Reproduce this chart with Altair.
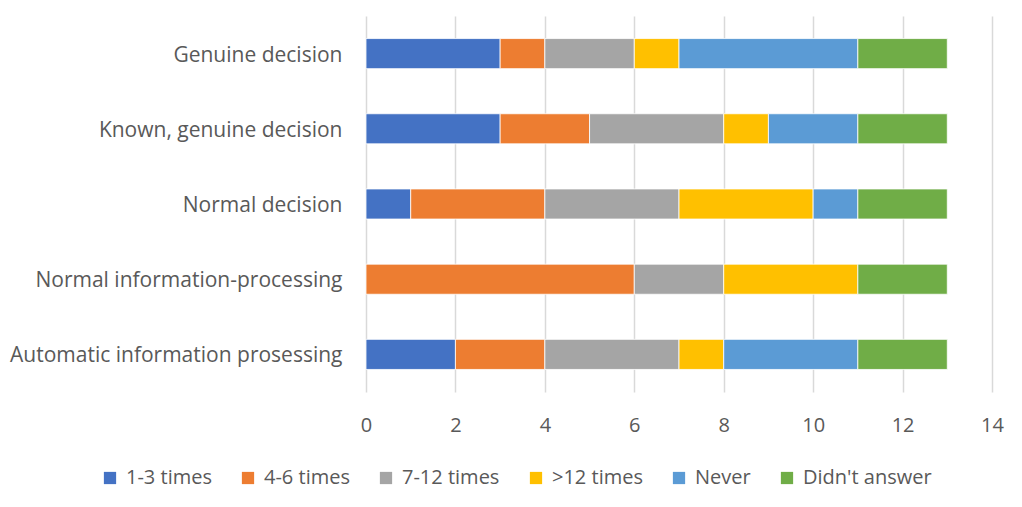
import altair as alt
import pandas as pd

categories = [
    "Genuine decision",
    "Known, genuine decision",
    "Normal decision",
    "Normal information-processing",
    "Automatic information prosessing",
]
series = ["1-3 times", "4-6 times", "7-12 times", ">12 times", "Never", "Didn't answer"]
colors = ["#4472C4", "#ED7D31", "#A5A5A5", "#FFC000", "#5B9BD5", "#70AD47"]

v_1_3 = [3, 3, 1, 0, 2]
v_4_6 = [1, 2, 3, 6, 2]
v_7_12 = [2, 3, 3, 2, 3]
v_gt12 = [1, 1, 3, 3, 1]
v_never = [4, 2, 1, 0, 3]
v_noans = [2, 2, 2, 2, 2]

values = [v_1_3, v_4_6, v_7_12, v_gt12, v_never, v_noans]
rows = []
for si, (s, vals) in enumerate(zip(series, values)):
    for c, v in zip(categories, vals):
        if v > 0:
            rows.append({"category": c, "series": s, "value": v, "order": si})
df = pd.DataFrame(rows)

FONT = "Open Sans"
FS = 20

chart = (
    alt.Chart(df)
    .mark_bar(stroke="white", strokeWidth=0.8)
    .encode(
        y=alt.Y(
            "category:N",
            sort=categories,
            title=None,
            scale=alt.Scale(paddingInner=0.6, paddingOuter=0.3),
            axis=alt.Axis(
                ticks=False,
                domain=False,
                grid=False,
                labelFont=FONT,
                labelFontSize=21,
                labelColor="#595959",
                labelPadding=24,
                labelOffset=2,
                labelLimit=400,
            ),
        ),
        x=alt.X(
            "value:Q",
            stack="zero",
            title=None,
            scale=alt.Scale(domain=[0, 14], nice=False),
            axis=alt.Axis(
                values=[0, 2, 4, 6, 8, 10, 12, 14],
                ticks=False,
                domain=False,
                grid=True,
                gridColor="#d9d9d9",
                gridWidth=1.5,
                labelFlush=False,
                labelFont=FONT,
                labelFontSize=FS,
                labelColor="#595959",
                labelPadding=23,
            ),
        ),
        color=alt.Color(
            "series:N",
            scale=alt.Scale(domain=series, range=colors),
            legend=alt.Legend(
                title=None,
                orient="none",
                direction="horizontal",
                legendX=-266,
                legendY=452,
                symbolType="square",
                symbolSize=150,
                symbolStrokeWidth=0,
                labelFont=FONT,
                labelFontSize=FS,
                labelColor="#595959",
                labelOffset=6,
                columnPadding=26,
                labelLimit=300,
            ),
        ),
        order=alt.Order("order:Q"),
    )
    .properties(
        width=626,
        height=376,
        autosize=alt.AutoSizeParams(type="none"),
        padding={"left": 366, "top": 16, "right": 30, "bottom": 115},
    )
    .configure_view(stroke=None)
)

chart.save("out.html", embed_options={"renderer": "svg", "actions": False})
